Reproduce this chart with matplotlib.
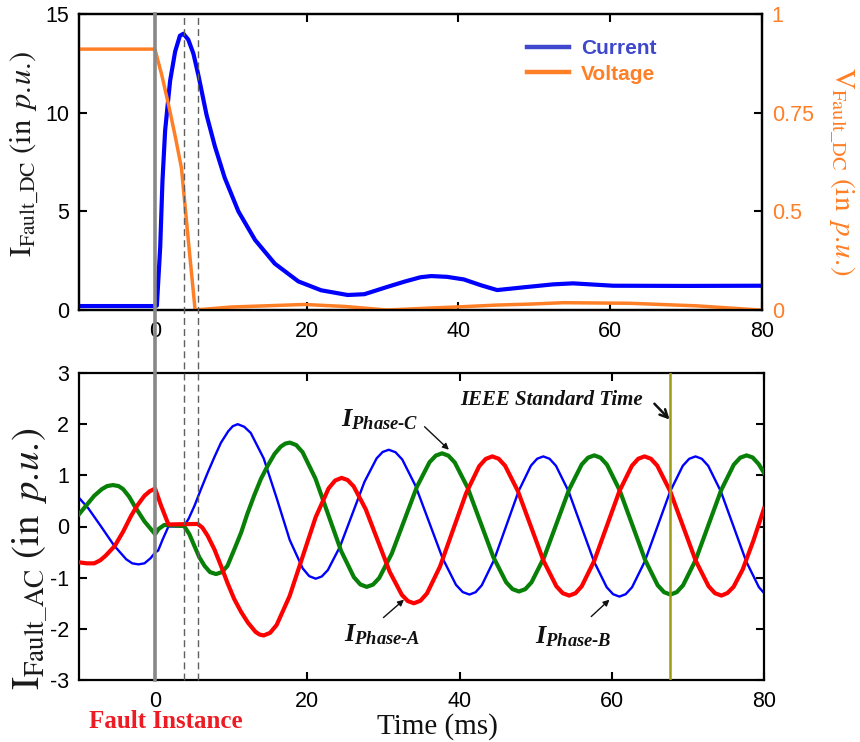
import numpy as np
import matplotlib
matplotlib.use('Agg')
import matplotlib.pyplot as plt
from matplotlib.lines import Line2D
import matplotlib.transforms as mtransforms

plt.rcParams['font.family'] = ['Liberation Sans', 'DejaVu Sans']
plt.rcParams['axes.unicode_minus'] = False
plt.rcParams['mathtext.fontset'] = 'custom'
plt.rcParams['mathtext.it'] = 'Liberation Serif:italic:bold'
plt.rcParams['mathtext.rm'] = 'Liberation Serif:bold'
plt.rcParams['mathtext.bf'] = 'Liberation Serif:bold'

# ---------------- data: top panel (DC fault) ----------------
t_dc_current = [-10, 0, 0.26, 0.7, 1.0, 1.35, 2.0, 2.67, 3.3, 3.76, 4.4, 5.07, 5.73, 6.8, 7.9,
                9.2, 11.0, 13.2, 15.8, 18.9, 21.9, 25.4, 27.6, 30.7, 33.0, 35.0, 36.4, 38.5,
                40.7, 43.0, 45.1, 48.6, 52.5, 55.1, 60.4, 70.0, 80.0]
i_dc_current = [0.2, 0.2, 0.22, 3.18, 6.55, 9.1, 11.6, 13.1, 13.9, 14.0, 13.7, 13.0, 11.9, 9.9, 8.3,
                6.7, 5.0, 3.55, 2.35, 1.45, 1.0, 0.76, 0.80, 1.18, 1.45, 1.66, 1.72, 1.68,
                1.55, 1.25, 1.01, 1.15, 1.30, 1.35, 1.23, 1.22, 1.23]

t_dc_voltage = [-10, 0, 0.9, 1.8, 2.7, 3.5, 4.4, 5.3, 10.0, 19.7, 25.0, 30.6, 36.4, 40.7,
                45.1, 49.5, 53.8, 62.6, 71.4, 79.7, 80.0]
v_dc_voltage = [0.911, 0.911, 0.846, 0.770, 0.688, 0.610, 0.355, 0.0, 0.015, 0.028, 0.018, 0.0,
                0.010, 0.017, 0.025, 0.030, 0.037, 0.034, 0.021, 0.0, 0.0]

v_ticks = [0, 0.5, 0.75, 1]
v_ticklabels = ['0', '0.5', '0.75', '1']
i_dc_ticks = [0, 5, 10, 15]
time_ticks = [0, 20, 40, 60, 80]

# ---------------- data: bottom panel (AC phase currents) ----------------
t_phase_b = [-10, -8.8, -7.1, -5.4, -3.8, -3.0, -2.2, -1.4, -0.6, 0.0, 0.4, 1.0, 1.75, 3.76, 4.4,
             5.16, 6.0, 6.9, 7.8, 8.66, 9.6, 10.2, 10.85,
             11.70, 12.56, 14.27, 15.98, 17.69, 19.39, 20.25, 21.1,
             21.9, 22.7, 24.3, 25.9, 27.5, 29.1, 29.9, 30.7,
             31.58, 32.47, 34.23, 36.0, 37.77, 39.53, 40.42, 41.3,
             42.11, 42.92, 44.53, 46.15, 47.77, 49.38, 50.19, 51.0,
             51.83, 52.67, 54.33, 56.0, 57.67, 59.33, 60.17, 61.0,
             61.83, 62.67, 64.33, 66.0, 67.67, 69.33, 70.17, 71.0,
             71.83, 72.67, 74.33, 76.0, 77.67, 79.33, 80.0]
i_phase_b = [0.56, 0.36, 0.0, -0.37, -0.64, -0.72, -0.74, -0.72, -0.62, -0.51, -0.47, -0.25, 0.0, 0.0, 0.15,
             0.40, 0.72, 1.05, 1.36, 1.64, 1.86, 1.96, 2.0,
             1.95, 1.83, 1.33, 0.55, -0.265, -0.818, -0.97, -1.02,
             -0.977, -0.851, -0.39, 0.24, 0.87, 1.331, 1.457, 1.5,
             1.452, 1.31, 0.79, 0.085, -0.62, -1.14, -1.282, -1.33,
             -1.284, -1.149, -0.655, 0.02, 0.695, 1.189, 1.324, 1.37,
             1.323, 1.186, 0.685, 0.0, -0.685, -1.186, -1.323, -1.37,
             -1.323, -1.186, -0.685, 0.0, 0.685, 1.186, 1.323, 1.37,
             1.323, 1.186, 0.685, 0.0, -0.685, -1.186, -1.30]

t_phase_c = [-10, -9, -8, -7, -6.3, -5.55, -4.8, -4.2, -3.4, -2.7, -1.4, 0.0,
             0.45, 1.2, 3.8, 4.5, 5.16, 5.8, 6.5, 7.2, 8.0, 8.8, 9.5, 10.4, 11.3, 12.1, 13.0,
             13.9, 14.8, 15.7, 16.5, 17.1, 17.7,
             18.54, 19.38, 21.07, 22.75, 24.43, 26.12, 26.96, 27.8,
             28.63, 29.45, 31.1, 32.75, 34.4, 36.05, 36.88, 37.7,
             38.54, 39.38, 41.07, 42.75, 44.43, 46.12, 46.96, 47.8,
             48.63, 49.45, 51.1, 52.75, 54.4, 56.05, 56.88, 57.7,
             58.53, 59.37, 61.03, 62.7, 64.37, 66.03, 66.87, 67.7,
             68.53, 69.37, 71.03, 72.7, 74.37, 76.03, 76.87, 77.7,
             78.5, 79.3, 80.0]
i_phase_c = [0.24, 0.42, 0.60, 0.73, 0.79, 0.81, 0.79, 0.73, 0.58, 0.40, 0.10, -0.15,
             -0.05, 0.03, 0.01, -0.15, -0.38, -0.60, -0.77, -0.89, -0.93, -0.89, -0.77, -0.45, -0.12, 0.24, 0.60,
             0.93, 1.19, 1.42, 1.56, 1.62, 1.64,
             1.592, 1.451, 0.935, 0.23, -0.475, -0.991, -1.132, -1.18,
             -1.136, -1.005, -0.527, 0.125, 0.778, 1.255, 1.386, 1.43,
             1.384, 1.249, 0.755, 0.08, -0.595, -1.089, -1.224, -1.27,
             -1.225, -1.092, -0.605, 0.06, 0.725, 1.212, 1.345, 1.39,
             1.344, 1.208, 0.71, 0.03, -0.65, -1.148, -1.284, -1.33,
             -1.284, -1.148, -0.65, 0.03, 0.71, 1.208, 1.344, 1.39,
             1.35, 1.22, 1.05]

t_phase_a = [-10, -9, -8.0, -7.2, -6.5, -5.3, -4.2, -3.15, -2.3, -1.4, -0.7, 0.0,
             0.8, 1.75, 5.6, 6.2, 6.9, 7.8, 8.66, 9.5, 10.4, 11.3, 12.2, 13.2, 13.7, 14.26,
             15.11, 15.97, 17.67, 19.38, 21.09, 22.79, 23.65, 24.5,
             25.29, 26.08, 27.67, 29.25, 30.83, 32.42, 33.21, 34.0,
             34.86, 35.72, 37.43, 39.15, 40.87, 42.58, 43.44, 44.3,
             45.14, 45.98, 47.67, 49.35, 51.03, 52.72, 53.56, 54.4,
             55.23, 56.05, 57.7, 59.35, 61.0, 62.65, 63.48, 64.3,
             65.14, 65.98, 67.67, 69.35, 71.03, 72.72, 73.56, 74.4,
             75.2, 76.0, 77.2, 78.6, 80.0]
i_phase_a = [-0.70, -0.72, -0.72, -0.66, -0.57, -0.38, -0.10, 0.21, 0.42, 0.60, 0.69, 0.74,
             0.40, 0.04, 0.05, -0.02, -0.18, -0.45, -0.77, -1.10, -1.42, -1.67, -1.88, -2.06, -2.11, -2.13,
             -2.078, -1.924, -1.36, -0.59, 0.18, 0.744, 0.898, 0.95,
             0.908, 0.786, 0.338, -0.275, -0.888, -1.336, -1.458, -1.5,
             -1.451, -1.308, -0.783, -0.065, 0.653, 1.178, 1.321, 1.37,
             1.324, 1.188, 0.69, 0.01, -0.67, -1.168, -1.304, -1.35,
             -1.304, -1.168, -0.67, 0.01, 0.69, 1.188, 1.324, 1.37,
             1.324, 1.188, 0.69, 0.01, -0.67, -1.168, -1.304, -1.35,
             -1.30, -1.18, -0.84, -0.28, 0.35]

ac_ticks = [-3, -2, -1, 0, 1, 2, 3]
fault_time = 0.0
event_times = [3.76, 5.6]
ieee_time = 67.6

# ---------------- styles ----------------
C_BLUE = '#0000ff'
C_ORANGE = '#ff7f27'
C_RED = '#ff0000'
C_GREEN = '#088008'
C_OLIVE = '#9c9c14'

W, H = 860, 742
fig = plt.figure(figsize=(W / 100, H / 100), dpi=100)
ax1 = fig.add_axes([79 / W, 1 - 310 / H, (762 - 79) / W, (310 - 14) / H])
ax3 = fig.add_axes([79 / W, 1 - 680 / H, (764 - 79) / W, (680 - 373) / H])

tick_kw = dict(direction='in', length=6, width=1.5, labelsize=15.5)

# ---- top panel ----
ax1.plot(t_dc_current, i_dc_current, color=C_BLUE, lw=3.0, solid_joinstyle='round')
ax1.set_xlim(-10, 80)
ax1.set_ylim(0, 15)
ax1.set_xticks(time_ticks)
ax1.set_yticks(i_dc_ticks)
ax1.tick_params(axis='x', top=True, pad=8, **tick_kw)
ax1.tick_params(axis='y', left=True, right=False, pad=7, **tick_kw)

ax2 = ax1.twinx()


def v_fwd(v):
    v = np.asarray(v, dtype=float)
    return np.where(v <= 0.5, v / 1.5,
                    np.where(v <= 0.75, 1 / 3 + (v - 0.5) / 0.75, 2 / 3 + (v - 0.75) / 0.75))


def v_inv(f):
    f = np.asarray(f, dtype=float)
    return np.where(f <= 1 / 3, f * 1.5,
                    np.where(f <= 2 / 3, 0.5 + (f - 1 / 3) * 0.75, 0.75 + (f - 2 / 3) * 0.75))


ax2.set_yscale('function', functions=(v_fwd, v_inv))
ax2.plot(t_dc_voltage, v_dc_voltage, color=C_ORANGE, lw=2.5, solid_joinstyle='round')
ax2.set_ylim(0, 1)
ax2.set_yticks(v_ticks)
ax2.set_yticklabels(v_ticklabels)
ax2.yaxis.set_minor_locator(matplotlib.ticker.NullLocator())
ax2.tick_params(axis='y', right=True, labelcolor=C_ORANGE, pad=7, **tick_kw)

for ax in (ax1, ax2, ax3):
    for sp in ax.spines.values():
        sp.set_linewidth(1.6)

leg_handles = [Line2D([], [], color='#3f48cc', lw=3.2), Line2D([], [], color=C_ORANGE, lw=3.2)]
ax1.legend(leg_handles, ['Current', 'Voltage'], loc='center left',
           bbox_to_anchor=((527 - 79) / 683, (310 - 61.5) / 296), frameon=False,
           borderpad=0, borderaxespad=0, handlelength=2.0, handletextpad=0.6,
           labelspacing=0.3, prop=dict(weight='bold', size=15),
           labelcolor=['#3f48cc', C_ORANGE])

# ---- bottom panel ----
ax3.plot(t_phase_b, i_phase_b, color=C_BLUE, lw=1.7, zorder=2)
ax3.plot(t_phase_c, i_phase_c, color=C_GREEN, lw=3.0, zorder=3)
ax3.plot(t_phase_a, i_phase_a, color=C_RED, lw=3.0, zorder=4)
ax3.axvline(ieee_time, color=C_OLIVE, lw=1.8, zorder=5)
ax3.set_xlim(-10, 80)
ax3.set_ylim(-3, 3)
ax3.set_xticks(time_ticks)
ax3.set_yticks(ac_ticks)
ax3.tick_params(axis='x', top=True, pad=8, **tick_kw)
ax3.tick_params(axis='y', right=True, pad=7, **tick_kw)

ann_kw = dict(fontsize=19, math_fontfamily='custom', ha='center', va='center', color='#111111')
arrow_kw = dict(arrowstyle='-|>', color='#111111', lw=1.0, mutation_scale=9, shrinkA=0, shrinkB=0)
ax3.annotate('', xy=(38.6, 1.50), xytext=(35.4, 1.95), arrowprops=arrow_kw)
ax3.text(29.5, 2.09, '$I_{Phase\u2010C}$', **ann_kw)
ax3.annotate('', xy=(32.7, -1.43), xytext=(30.0, -1.78), arrowprops=arrow_kw)
ax3.text(29.9, -2.12, '$I_{Phase\u2010A}$', **ann_kw)
ax3.annotate('', xy=(59.7, -1.43), xytext=(57.3, -1.76), arrowprops=arrow_kw)
ax3.text(54.9, -2.16, '$I_{Phase\u2010B}$', **ann_kw)

ax3.text(52.1, 2.48, 'IEEE Standard Time', fontsize=15, family='Liberation Serif',
         weight='bold', style='italic', ha='center', va='center', color='#111111')
ax3.annotate('', xy=(ieee_time, 2.09), xytext=(65.6, 2.40),
             arrowprops=dict(arrowstyle='->', color='#111111', lw=1.8, mutation_scale=14,
                             shrinkA=0, shrinkB=0))

# ---- vertical event lines spanning both panels ----
blend = mtransforms.blended_transform_factory(ax3.transData, fig.transFigure)
y_lo, y_hi = 1 - 680 / H, 1 - 14 / H
fig.add_artist(Line2D([fault_time, fault_time], [y_lo, y_hi], transform=blend,
                      color='#888888', lw=2.6, zorder=10))
for te in event_times:
    fig.add_artist(Line2D([te, te], [y_lo, y_hi], transform=blend, color='#606060',
                          lw=1.0, ls=(0, (5, 3)), zorder=10))

# ---- axis labels ----
fig.text(25 / W, 1 - 154 / H, r'$\mathrm{I}_{\mathrm{Fault\_DC}}\ (\mathrm{in}\ \,p.\!u.\!)$',
         rotation=90, ha='center', va='center', fontsize=22, math_fontfamily='stix',
         color='#1a1a1a')
fig.text(842 / W, 1 - 171 / H, r'$\mathrm{V}_{\mathrm{Fault\_DC}}\ (\mathrm{in}\ \,p.\!u.\!)$',
         rotation=-90, ha='center', va='center', fontsize=21, math_fontfamily='stix',
         color=C_ORANGE)
fig.text(30 / W, 1 - 559 / H, r'$\mathrm{I}_{\mathrm{Fault\_AC}}\ (\mathrm{in}\ \,p.\!u.\!)$',
         rotation=90, ha='center', va='center', fontsize=28, math_fontfamily='stix',
         color='#1a1a1a')
fig.text(437 / W, 1 - 727 / H, 'Time (ms)', ha='center', va='center', fontsize=21,
         family='Liberation Serif', color='#111111')
fig.text(166 / W, 1 - 722 / H, 'Fault Instance', ha='center', va='center', fontsize=18,
         family='Liberation Serif', weight='bold', color='#ed1c24')

fig.savefig('out.png', dpi=100)
